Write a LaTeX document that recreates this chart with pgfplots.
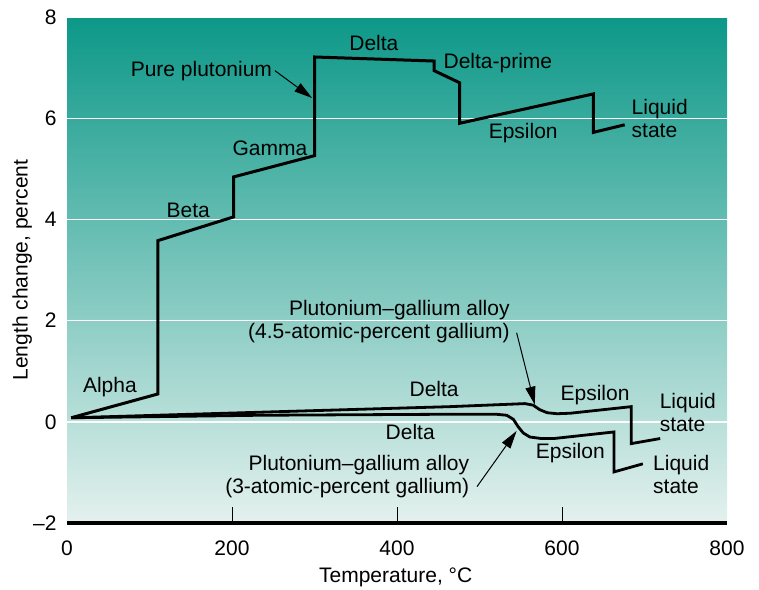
\documentclass[border=0pt]{standalone}
\usepackage{fontspec}
\setmainfont{Liberation Sans}
\usepackage{pgfplots}
\pgfplotsset{compat=1.18}
\usetikzlibrary{arrows.meta}
\definecolor{bgtop}{RGB}{12,152,136}
\definecolor{bgbot}{RGB}{228,241,238}
\begin{document}
\begin{tikzpicture}[font=\fontsize{10.5}{11.5}\selectfont, lab/.style={inner sep=0pt}]
\begin{axis}[
  scale only axis, width=330pt, height=253pt,
  xmin=0, xmax=800, ymin=-2, ymax=8,
  clip=false,
  axis line style={draw=none},
  axis background/.style={top color=bgtop, bottom color=bgbot},
  xtick={0,200,400,600,800},
  ytick={-2,0,2,4,6,8},
  yticklabels={–2,0,2,4,6,8},
  major tick length=0pt,
  ymajorgrids, grid style={white, line width=0.7pt},
  /pgf/number format/assume math mode=true,
  xticklabel style={inner sep=0pt, anchor=north, yshift=-8.5pt},
  yticklabel style={inner sep=0pt, anchor=east, xshift=-5pt},
  xlabel={Temperature, \textdegree C},
  ylabel={Length change, percent},
  every axis x label/.style={at={(axis description cs:0.498,-0.107)}, anchor=center},
  every axis y label/.style={at={(axis description cs:-0.068,0.5)}, rotate=90, anchor=center},
]
\coordinate (ll) at (rel axis cs:0,0);
\coordinate (ur) at (rel axis cs:1,1);
% pure plutonium
\addplot[black, line width=1.5pt, line join=miter] coordinates {
(5,0.08) (110,0.55) (110,3.58) (202,4.05) (202,4.84) (300,5.26) (300,7.21)
(445,7.13) (445,6.94) (476,6.70) (476,5.90) (638,6.48) (638,5.72) (676,5.87)};
% 4.5 at% Ga
\addplot[black, line width=1.4pt, line join=miter] coordinates {
(5,0.08) (234,0.19) (464,0.30) (540,0.35) (555,0.36) (565,0.33) (573,0.24)
(582,0.18) (594,0.16) (610,0.17) (684,0.30) (684,-0.43) (719,-0.33)};
% 3 at% Ga
\addplot[black, line width=1.4pt, line join=miter] coordinates {
(5,0.08) (234,0.13) (464,0.15) (520,0.15) (533,0.13) (541,0.05) (547,-0.10)
(553,-0.22) (561,-0.30) (575,-0.33) (590,-0.33) (663,-0.20) (663,-0.99) (698,-0.83)};
% bottom axis line and ticks
\draw[black, line width=1.7pt] (axis cs:0,-2) -- (axis cs:800,-2);
\draw[black, line width=0.5pt] (axis cs:200,-2) -- (axis cs:200,-1.68);
\draw[black, line width=0.5pt] (axis cs:400,-2) -- (axis cs:400,-1.68);
\draw[black, line width=0.5pt] (axis cs:600,-2) -- (axis cs:600,-1.68);
% labels
\node[lab, anchor=east] at (axis cs:249,6.94) {Pure plutonium};
\draw[line width=0.5pt, -{Triangle[length=9pt,width=5pt]}] (axis cs:252,6.94) -- (axis cs:297,6.40);
\node[lab] at (axis cs:372,7.49) {Delta};
\node[lab, anchor=west] at (axis cs:456,7.09) {Delta-prime};
\node[lab] at (axis cs:246,5.41) {Gamma};
\node[lab] at (axis cs:147,4.17) {Beta};
\node[lab] at (axis cs:52,0.69) {Alpha};
\node[lab] at (axis cs:553,5.71) {Epsilon};
\node[lab, anchor=west, align=left] at (axis cs:684,5.99) {Liquid\\state};
\node[lab, anchor=east, align=right] at (axis cs:537,1.98) {Plutonium–gallium alloy\\(4.5-atomic-percent gallium)};
\draw[line width=0.5pt, -{Triangle[length=9pt,width=5pt]}] (axis cs:545,1.76) -- (axis cs:567,0.34);
\node[lab] at (axis cs:445,0.65) {Delta};
\node[lab] at (axis cs:640,0.53) {Epsilon};
\node[lab, anchor=west, align=left] at (axis cs:718,0.18) {Liquid\\state};
\node[lab] at (axis cs:416,-0.20) {Delta};
\node[lab] at (axis cs:610,-0.61) {Epsilon};
\node[lab, anchor=east, align=right] at (axis cs:488,-1.09) {Plutonium–gallium alloy\\(3-atomic-percent gallium)};
\draw[line width=0.5pt, -{Triangle[length=9pt,width=5pt]}] (axis cs:497,-1.28) -- (axis cs:545,-0.18);
\node[lab, anchor=west, align=left] at (axis cs:710,-1.05) {Liquid\\state};
\end{axis}
\pgfresetboundingbox
\path ([shift={(-33.5pt,-33pt)}]ll) rectangle ([shift={(16pt,8.5pt)}]ur);
\end{tikzpicture}
\end{document}
